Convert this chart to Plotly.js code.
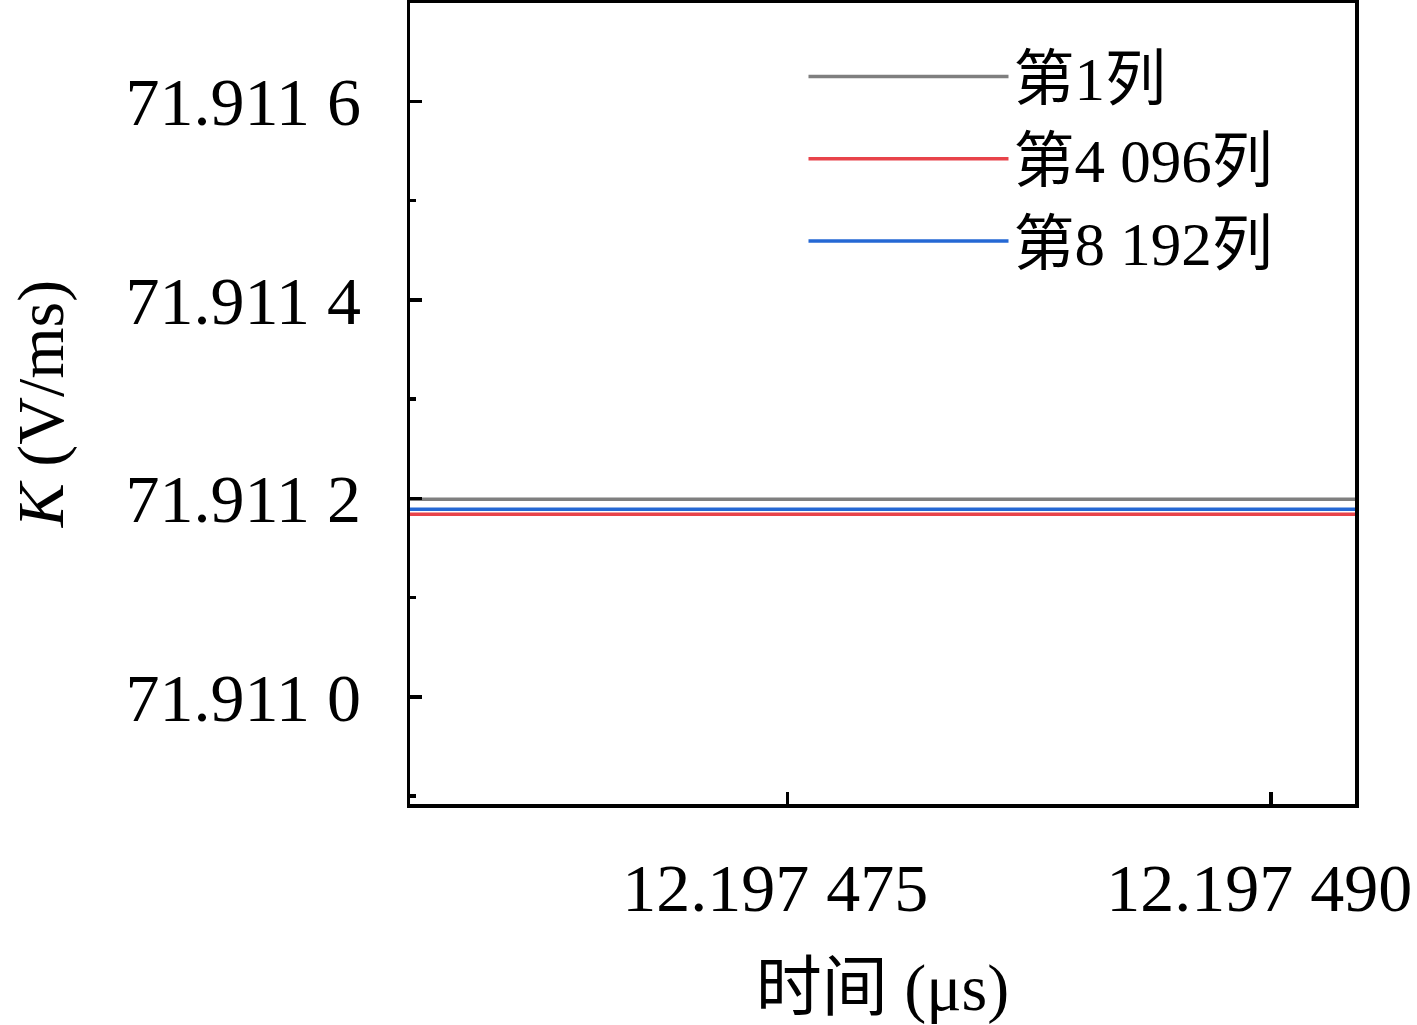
<!DOCTYPE html>
<html>
<head>
<meta charset="utf-8">
<script src="https://cdn.plot.ly/plotly-3.0.1.min.js"></script>
<style>html,body{margin:0;padding:0;background:#fff;}#chart{width:1417px;height:1025px;}</style>
</head>
<body>
<div id="chart"></div>
<script>
// Data
var seriesNames = ['第1列', '第4 096列', '第8 192列'];
var seriesColors = ['#7f7f7f', '#e8434a', '#2568d4'];
var timeUs = [12.19746, 12.19747, 12.19748, 12.19749, 12.19750];
var col1 = [71.911199, 71.911199, 71.911199, 71.911199, 71.911199];
var col4096 = [71.911184, 71.911184, 71.911184, 71.911184, 71.911184];
var col8192 = [71.911189, 71.911189, 71.911189, 71.911189, 71.911189];
var yTickVals = [71.9110, 71.9112, 71.9114, 71.9116];
var yTickText = ['71.911 0', '71.911 2', '71.911 4', '71.911 6'];
var xTickVals = [12.197475, 12.197490];
var xTickText = ['12.197 475', '12.197 490'];

var fontFam = '"Liberation Serif", "Noto Sans CJK SC", serif';
var seriesY = [col1, col4096, col8192];
var traces = seriesY.map(function (ys, i) {
  return {
    x: timeUs, y: ys, type: 'scatter', mode: 'lines',
    name: seriesNames[i],
    line: {color: seriesColors[i], width: 3.5}
  };
});

var layout = {
  width: 1417, height: 1025,
  margin: {l: 410, r: 62, t: 3, b: 221},
  paper_bgcolor: '#fff', plot_bgcolor: '#fff',
  font: {family: fontFam, size: 66, color: '#000'},
  showlegend: true,
  legend: {
    x: 0.4164, y: 0.966, xanchor: 'left', yanchor: 'top',
    bgcolor: 'rgba(0,0,0,0)', borderwidth: 0,
    font: {family: fontFam, size: 61, color: '#000'},
    itemwidth: 200, tracegroupgap: 0
  },
  xaxis: {
    range: [12.1974633, 12.1974926],
    tickmode: 'array', tickvals: xTickVals, ticktext: xTickText,
    ticks: 'inside', ticklen: 12, tickwidth: 3.5, tickcolor: '#000',
    showline: true, linewidth: 3.5, linecolor: '#000', mirror: true,
    showgrid: false, zeroline: false,
    ticklabelstandoff: 22, ticklabelshift: -12, ticklabeloverflow: 'allow',
    tickfont: {family: fontFam, size: 68},
    title: {text: '时间 (μs)', font: {family: fontFam, size: 66}, standoff: 44},
    automargin: false
  },
  yaxis: {
    range: [71.910892, 71.911699],
    tickmode: 'array', tickvals: yTickVals, ticktext: yTickText,
    ticks: 'inside', ticklen: 12, tickwidth: 3.5, tickcolor: '#000',
    minor: {dtick: 0.0001, tick0: 71.9110, ticks: 'inside', ticklen: 6, tickwidth: 3.5, tickcolor: '#000', showgrid: false},
    showline: true, linewidth: 3.5, linecolor: '#000', mirror: true,
    showgrid: false, zeroline: false,
    ticklabelstandoff: 32, ticklabeloverflow: 'allow',
    tickfont: {family: fontFam, size: 68},
    title: {text: '<i>K</i> (V/ms)', font: {family: fontFam, size: 66}, standoff: 41},
    automargin: false
  }
};

Plotly.newPlot('chart', traces, layout, {displayModeBar: false, staticPlot: true});
</script>
</body>
</html>
